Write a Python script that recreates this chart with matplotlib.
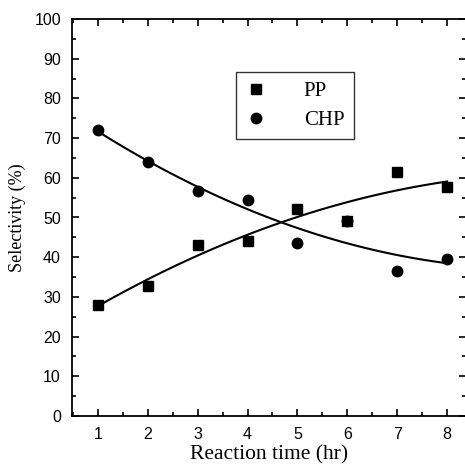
import numpy as np
import matplotlib
matplotlib.use("Agg")
import matplotlib.pyplot as plt
from matplotlib.ticker import MultipleLocator

# data
hours = [1, 2, 3, 4, 5, 6, 7, 8]
pp = [28.0, 32.8, 43.1, 44.0, 52.1, 49.0, 61.5, 57.6]
chp = [72.0, 64.0, 56.6, 54.4, 43.5, 49.1, 36.4, 39.6]

fig = plt.figure(figsize=(4.65, 4.69), dpi=100)
ax = fig.add_axes([72 / 465, 1 - 416 / 469, 394 / 465, 397 / 469])

# smooth trend lines (2nd order fit)
xs = np.linspace(1, 8, 100)
for ys in (pp, chp):
    c = np.polyfit(hours, ys, 2)
    ax.plot(xs, np.polyval(c, xs), color="black", lw=1.5)

ax.plot(hours, pp, "s", color="black", ms=6.5, label="PP")
ax.plot(hours, chp, "o", color="black", ms=7.5, label="CHP")

ax.set_xlim(0.48, 8.38)
ax.set_ylim(0, 100)
ax.xaxis.set_major_locator(MultipleLocator(1))
ax.xaxis.set_minor_locator(MultipleLocator(0.5))
ax.yaxis.set_major_locator(MultipleLocator(10))
ax.yaxis.set_minor_locator(MultipleLocator(5))
ax.tick_params(which="both", direction="in", top=True, right=True, width=1.2)
ax.tick_params(which="major", length=5, labelsize=11.5, pad=8)
ax.tick_params(which="minor", length=3)
for lab in ax.get_xticklabels() + ax.get_yticklabels():
    lab.set_fontfamily("Liberation Sans")
for s in ax.spines.values():
    s.set_linewidth(1.3)

ax.set_xlabel("Reaction time (hr)", fontfamily="Liberation Serif", fontsize=15.5, labelpad=2)
ax.set_ylabel("Selectivity (%)", fontfamily="Liberation Serif", fontsize=13, labelpad=6)

leg = ax.legend(loc="upper left", bbox_to_anchor=((236 - 72) / 394, (416 - 72) / 397),
                prop={"family": "Liberation Serif", "size": 15}, frameon=True,
                fancybox=False, edgecolor="black", handlelength=1.0, handletextpad=1.8,
                borderpad=0.45, labelspacing=0.45, borderaxespad=0)
leg.get_frame().set_linewidth(1.0)

fig.savefig("out.png", dpi=100)
